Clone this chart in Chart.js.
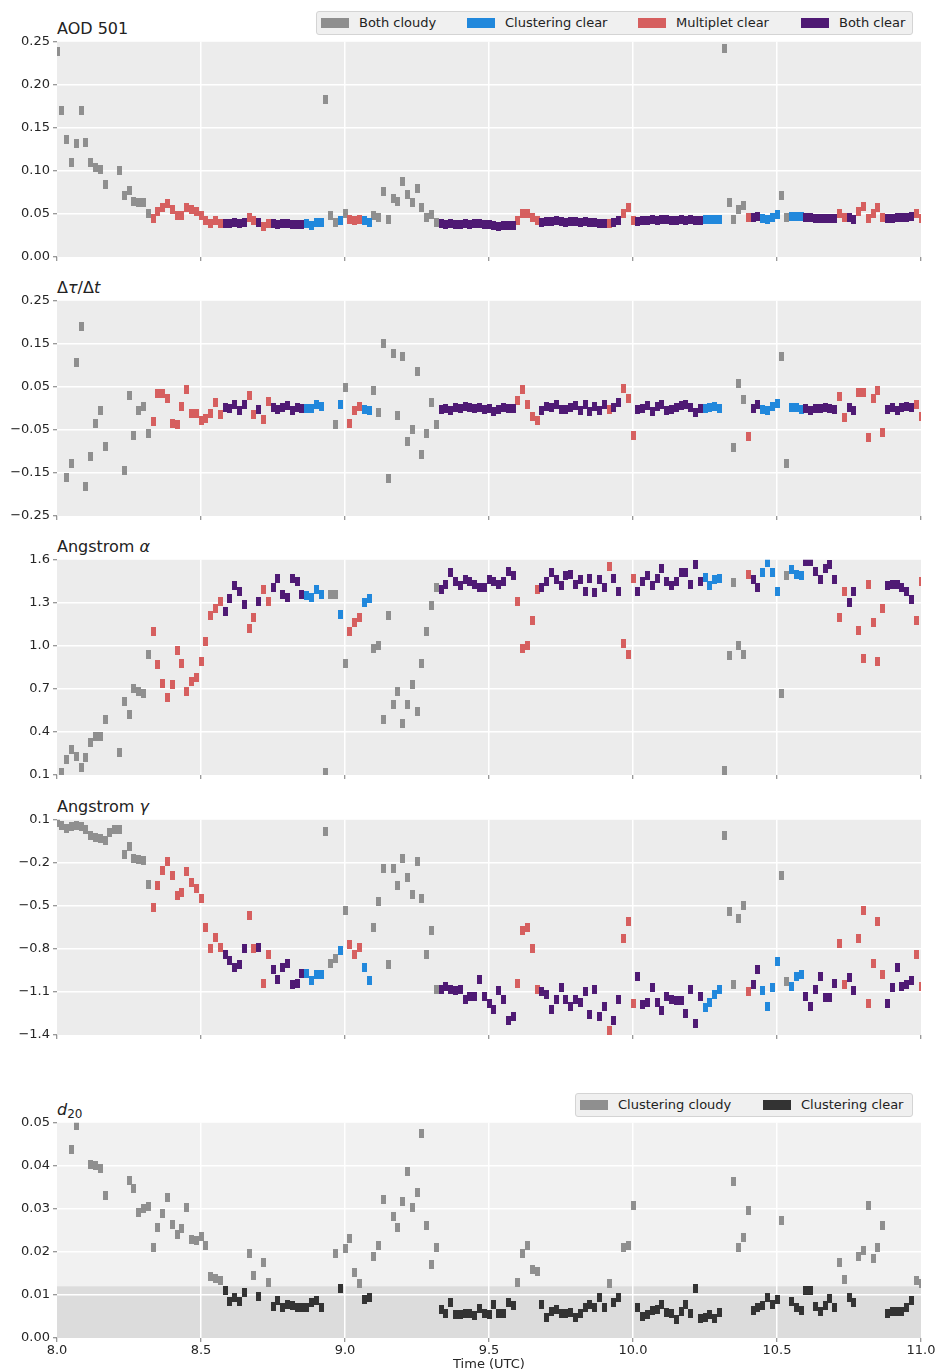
<!DOCTYPE html>
<html>
<head>
<meta charset="utf-8">
<script src="https://cdn.jsdelivr.net/npm/chart.js@4.4.1/dist/chart.umd.min.js"></script>
<style>
  body { margin: 0; background: #fff; width: 938px; height: 1372px; overflow: hidden; position: relative;
         font-family: 'DejaVu Sans', sans-serif; color: #222; }
  canvas { position: absolute; left: 0; }
  .title { position: absolute; left: 57px; font-size: 16px; line-height: 16px; white-space: nowrap; }
  .legend { position: absolute; background: #f0f0f0; border: 1px solid #d4d4d4; border-radius: 3px; box-sizing: border-box; }
  .item { position: absolute; top: 0; font-size: 13px; line-height: 22px; white-space: nowrap; }
  .swatch { display: inline-block; width: 28px; height: 10px; vertical-align: -1px; margin-right: 10px; }
</style>
</head>
<body>

<div class="title" style="top:21px">AOD 501</div>
<div class="title" style="top:280px">Δ<i>τ</i>/Δ<i>t</i></div>
<div class="title" style="top:539px">Angstrom <i>α</i></div>
<div class="title" style="top:799px">Angstrom <i>γ</i></div>
<div class="title" style="top:1102px"><i>d</i><span style="font-size:12px;position:relative;top:3px">20</span></div>

<div class="legend" style="left:316px;top:11px;width:597px;height:24px">
  <div class="item" style="left:4px"><span class="swatch" style="background:#8f8f8f"></span>Both cloudy</div>
  <div class="item" style="left:150px"><span class="swatch" style="background:#2188dc"></span>Clustering clear</div>
  <div class="item" style="left:321px"><span class="swatch" style="background:#d65f5f"></span>Multiplet clear</div>
  <div class="item" style="left:484px"><span class="swatch" style="background:#4f1a74"></span>Both clear</div>
</div>
<div class="legend" style="left:575px;top:1093px;width:338px;height:24px">
  <div class="item" style="left:4px"><span class="swatch" style="background:#8f8f8f"></span>Clustering cloudy</div>
  <div class="item" style="left:187px"><span class="swatch" style="background:#333333"></span>Clustering clear</div>
</div>

<canvas id="aodChart" width="938" height="238" style="top:31px"></canvas>
<canvas id="dtauChart" width="938" height="238" style="top:290px"></canvas>
<canvas id="alphaChart" width="938" height="238" style="top:549px"></canvas>
<canvas id="gammaChart" width="938" height="238" style="top:809px"></canvas>
<canvas id="d20Chart" width="938" height="260" style="top:1112px"></canvas>

<script>
// one reading per minute starting 08:00 UTC, index = minutes after 08:00
const startHour = 8;

// sky class per minute: G both cloudy, C clustering clear, M multiplet clear, B both clear
const skyClass = (
  'GGGGGGGGGGGGGGGGGGGG' + 'MMMMMMMMMMMMMMM' + 'BBBBB' + 'MM' + 'B' + 'MM' + 'BBBBBBB' + 'CCCC' +
  'GGG' + 'C' + 'G' + 'MMM' + 'CC' + 'GGGGGGGGGGGGGG' + 'BBBBBBBBBBBBBBBB' + 'MMMMM' +
  'BBBBBBBBBBBBBB' + 'M' + 'BB' + 'MMM' + 'BBBBBBBBBBBBBB' + 'CCCC' + 'GGGGG' + 'M' + 'BB' +
  'CCCC' + 'GG' + 'CCC' + 'BBBBBBB' + 'MM' + 'BB' + 'MMMMMM' + 'BBBBBB' + 'MM'
).split('');

const aod = [
  .239, .170, .137, .110, .132, .170, .133, .110, .104, .102,
  .084, null, null, .100, .071, .077, .064, .063, .063, .051,
  .045, .053, .058, .062, .055, .048, .048, .058, .055, .053,
  .048, .042, .039, .042, .039, .039, .039, .040, .039, .040,
  .046, .042, .040, .036, .039, .039, .038, .039, .039, .038,
  .038, .038, .039, .037, .040, .040, .183, .048, .040, .042,
  .051, .044, .042, .043, .042, .040, .048, .046, .076, .043,
  .068, .064, .088, .073, .063, .080, .058, .046, .049, .040,
  .039, .038, .039, .038, .038, .039, .038, .039, .039, .038,
  .038, .037, .036, .037, .037, .037, .042, .050, .050, .046,
  .042, .040, .041, .041, .042, .041, .040, .041, .041, .040,
  .041, .040, .040, .039, .039, .039, .040, .042, .051, .057,
  .042, .041, .042, .042, .043, .042, .043, .043, .042, .042,
  .043, .042, .043, .042, .042, .043, .043, .044, .043, .242,
  .063, .044, .055, .060, .046, .046, .047, .045, .044, .046,
  .049, .072, .046, .047, .047, .047, .046, .046, .045, .045,
  .045, .045, .045, .051, .046, .046, .044, .053, .059, .045,
  .050, .058, .046, .045, .045, .046, .046, .046, .047, .051, .045
];

const dtau = [
  null, null, -.161, -.128, .106, .191, -.181, -.112, -.034, -.005,
  -.088, null, null, null, -.144, .031, -.062, -.004, .005, -.059,
  -.030, .035, .035, .024, -.035, -.038, .005, .045, -.013, -.011,
  -.028, -.024, -.013, .014, -.015, .001, .000, .010, -.005, .008,
  .031, -.015, -.002, -.026, .016, .003, -.002, .002, .006, -.004,
  .003, -.001, .000, -.001, .010, .004, null, null, -.038, .008,
  .048, -.035, -.005, .005, -.002, -.005, .041, -.010, .151, -.163,
  .128, -.017, .120, -.076, -.048, .085, -.107, -.058, .013, -.038,
  -.002, .000, -.004, .003, .000, .005, .002, -.001, .002, -.002,
  .000, -.008, -.002, .001, .000, .000, .018, .045, .010, -.019,
  -.027, -.004, .005, .003, .009, -.002, -.002, .003, .006, -.005,
  .008, -.007, .004, -.006, .010, -.002, .003, .014, .047, .024,
  -.064, -.002, .000, .007, -.008, .004, .010, -.006, -.003, .002,
  .006, .008, .001, -.009, .000, .000, .003, .005, -.001, null,
  null, -.092, .059, .020, -.066, -.001, .008, -.003, -.004, .005,
  .012, .121, -.127, .003, .001, -.002, .000, -.006, -.001, .000,
  .001, -.001, -.003, .028, -.022, .002, -.006, .037, .037, -.068,
  .023, .042, -.057, -.003, .002, -.004, .001, .004, .001, .010, -.019
];

const alpha = [
  null, .12, .21, .28, .23, .15, .22, .33, .37, .37,
  .49, null, null, .26, .61, .52, .70, .68, .67, .94,
  1.10, .87, .74, .64, .73, .97, .88, .68, .75, .78,
  .89, 1.03, 1.21, 1.26, 1.31, 1.24, 1.33, 1.42, 1.38, 1.29,
  1.12, 1.20, 1.31, 1.39, 1.31, 1.41, 1.47, 1.36, 1.34, 1.47,
  1.45, 1.36, 1.35, 1.34, 1.39, 1.36, .12, 1.36, 1.36, 1.22,
  .88, 1.10, 1.16, 1.20, 1.30, 1.33, .98, 1.00, .49, 1.21,
  .59, .68, .46, .59, .73, .54, .88, 1.10, 1.28, 1.41,
  1.39, 1.43, 1.51, 1.45, 1.42, 1.46, 1.45, 1.43, 1.41, 1.41,
  1.46, 1.45, 1.43, 1.45, 1.52, 1.49, 1.31, .98, 1.00, 1.18,
  1.39, 1.41, 1.45, 1.51, 1.46, 1.42, 1.49, 1.50, 1.43, 1.46,
  1.38, 1.47, 1.37, 1.46, 1.41, 1.55, 1.47, 1.38, 1.02, .94,
  1.47, 1.38, 1.45, 1.49, 1.42, 1.47, 1.54, 1.45, 1.42, 1.45,
  1.51, 1.51, 1.43, 1.57, 1.45, 1.48, 1.42, 1.46, 1.47, .13,
  .93, 1.44, 1.00, .94, 1.50, 1.46, 1.41, 1.51, 1.58, 1.51,
  1.38, .67, 1.49, 1.53, 1.50, 1.49, 1.59, 1.59, 1.52, 1.46,
  1.54, 1.57, 1.46, 1.20, 1.38, 1.30, 1.38, 1.11, .91, 1.43,
  1.16, .89, 1.26, 1.42, 1.43, 1.43, 1.41, 1.38, 1.32, 1.18, 1.45
];

const gamma = [
  .08, .06, .04, .05, .06, .05, .035, -.006, -.02, -.03,
  -.045, .01, .03, .03, -.14, -.085, -.17, -.18, -.185, -.35,
  -.51, -.36, -.25, -.19, -.29, -.43, -.41, -.26, -.34, -.38,
  -.45, -.65, -.80, -.72, -.79, -.84, -.88, -.93, -.91, -.80,
  -.57, -.80, -.79, -1.04, -.84, -.94, -1.01, -.93, -.90, -1.05,
  -1.04, -.97, -.97, -1.02, -.98, -.98, .02, -.90, -.87, -.81,
  -.53, -.77, -.84, -.79, -.93, -1.02, -.65, -.47, -.24, -.91,
  -.24, -.36, -.17, -.30, -.42, -.19, -.45, -.84, -.67, -1.08,
  -1.08, -1.06, -1.08, -1.09, -1.08, -1.15, -1.13, -1.13, -1.01, -1.13,
  -1.18, -1.22, -1.09, -1.15, -1.30, -1.27, -1.04, -.67, -.65, -.80,
  -1.08, -1.10, -1.12, -1.22, -1.15, -1.07, -1.15, -1.20, -1.15, -1.17,
  -1.10, -1.26, -1.08, -1.27, -1.20, -1.37, -1.30, -1.15, -.73, -.61,
  -1.18, -.99, -1.19, -1.17, -1.07, -1.17, -1.23, -1.13, -1.15, -1.16,
  -1.16, -1.25, -1.08, -1.32, -1.13, -1.21, -1.17, -1.12, -1.08, -.01,
  -.54, -1.05, -.59, -.50, -1.10, -1.05, -.94, -1.09, -1.20, -1.07,
  -.89, -.29, -1.03, -1.06, -.99, -.98, -1.13, -1.20, -1.08, -.99,
  -1.14, -1.14, -1.04, -.76, -1.05, -1.00, -1.09, -.73, -.53, -1.18,
  -.90, -.61, -.98, -1.18, -1.07, -.93, -1.06, -1.05, -1.02, -.84, -1.06
];

const d20 = [
  null, null, null, .0439, .0493, null, null, .0404, .0400, .0394,
  .0330, null, null, null, null, .0366, .0348, .0291, .0301, .0306,
  .0211, .0256, .0290, .0326, .0264, .0241, .0255, .0304, .0229, .0227,
  .0235, .0214, .0144, .0138, .0134, .0110, .0084, .0095, .0084, .0105,
  .0196, .0145, .0097, .0175, .0130, .0074, .0088, .0070, .0078, .0075,
  .0071, .0071, .0071, .0082, .0087, .0071, null, null, .0196, .0115,
  .0207, .0231, .0153, .0127, .0089, .0095, .0190, .0216, .0322, null,
  .0282, .0256, .0318, .0388, .0304, .0338, .0474, .0262, .0171, .0210,
  .0066, .0058, .0083, .0054, .0054, .0056, .0058, .0053, .0068, .0056,
  .0054, .0078, .0056, .0056, .0082, .0075, .0130, .0196, .0214, .0158,
  .0155, .0078, .0048, .0062, .0066, .0056, .0056, .0060, .0048, .0058,
  .0071, .0078, .0070, .0093, .0071, .0126, .0082, .0095, .0211, .0214,
  .0309, .0070, .0050, .0054, .0063, .0066, .0078, .0060, .0058, .0044,
  .0062, .0078, .0056, .0116, .0045, .0047, .0054, .0045, .0060, null,
  null, .0363, .0210, .0233, .0297, .0064, .0070, .0075, .0093, .0078,
  .0089, .0274, null, .0085, .0070, .0064, .0110, .0110, .0073, .0062,
  .0075, .0091, .0070, .0175, .0136, .0095, .0082, .0189, .0204, .0309,
  .0184, .0210, .0262, .0058, .0062, .0062, .0062, .0070, .0087, .0134, .0126
];

const xTicks = [8.0, 8.5, 9.0, 9.5, 10.0, 10.5, 11.0];
const aodTicks = [0, 0.05, 0.10, 0.15, 0.20, 0.25];
const dtauTicks = [-0.25, -0.15, -0.05, 0.05, 0.15, 0.25];
const alphaTicks = [0.1, 0.4, 0.7, 1.0, 1.3, 1.6];
const gammaTicks = [-1.4, -1.1, -0.8, -0.5, -0.2, 0.1];
const d20Ticks = [0, 0.01, 0.02, 0.03, 0.04, 0.05];
const cloudThreshold = 0.012;

const classColors = { G: '#8f8f8f', C: '#2188dc', M: '#d65f5f', B: '#4f1a74' };
const classNames = { G: 'Both cloudy', C: 'Clustering clear', M: 'Multiplet clear', B: 'Both clear' };

Chart.defaults.font.family = "'DejaVu Sans', sans-serif";
Chart.defaults.font.size = 13;
Chart.defaults.color = '#262626';

const times = skyClass.map((_, i) => startHour + i / 60);

function marker(color) {
    const c = document.createElement('canvas');
    c.width = 5;
    c.height = 9;
    const g = c.getContext('2d');
    g.fillStyle = color;
    g.fillRect(0, 0, 5, 9);
    return c;
}

function points(values, keep) {
    const out = [];
    values.forEach((v, i) => {
        if (v !== null && keep(i)) out.push({ x: times[i], y: v });
    });
    return out;
}

function dataset(label, data, color) {
    return {
        label: label,
        data: data,
        pointStyle: marker(color),
        pointRadius: 3,
        clip: 0
    };
}

// plot background, optional darker band below the cloud threshold
const bgPlugin = {
    id: 'bg',
    beforeDraw(chart, args, opts) {
        const { ctx, chartArea: a } = chart;
        ctx.save();
        ctx.fillStyle = opts.color;
        ctx.fillRect(a.left, a.top, a.width, a.height);
        if (opts.bandBelow !== undefined) {
            const y = chart.scales.y.getPixelForValue(opts.bandBelow);
            ctx.fillStyle = opts.bandColor;
            ctx.fillRect(a.left, y, a.width, a.bottom - y);
        }
        ctx.restore();
    }
};

function gridColor(lo, hi) {
    return c => (c.tick && (Math.abs(c.tick.value - lo) < 1e-9 || Math.abs(c.tick.value - hi) < 1e-9)) ? 'rgba(0,0,0,0)' : '#ffffff';
}

function makePanel(id, datasets, yMin, yMax, yTicks, decimals, isLast, bg) {
    return new Chart(document.getElementById(id), {
        type: 'scatter',
        data: { datasets: datasets },
        options: {
            responsive: false,
            animation: false,
            events: [],
            layout: { padding: { top: 10, right: 17, left: 0, bottom: 0 } },
            plugins: {
                legend: { display: false },
                tooltip: { enabled: false },
                bg: bg
            },
            scales: {
                x: {
                    type: 'linear',
                    min: 8,
                    max: 11,
                    afterBuildTicks: s => { s.ticks = xTicks.map(v => ({ value: v })); },
                    afterFit: s => { s.height = isLast ? 34 : 12; },
                    grid: { color: gridColor(8, 11), lineWidth: 1.5, tickColor: '#777', tickLength: 4, tickWidth: 1 },
                    border: { display: false },
                    ticks: { display: isLast, padding: 1, maxRotation: 0, autoSkip: false, callback: v => v.toFixed(1) },
                    title: { display: isLast, text: 'Time (UTC)', padding: { top: 1, bottom: 0 }, font: { size: 13 } }
                },
                y: {
                    min: yMin,
                    max: yMax,
                    afterBuildTicks: s => { s.ticks = yTicks.map(v => ({ value: v })); },
                    afterFit: s => { s.width = 57; },
                    grid: { color: gridColor(yMin, yMax), lineWidth: 1.5, tickColor: '#777', tickLength: 4, tickWidth: 1 },
                    border: { display: false },
                    ticks: { padding: 3, autoSkip: false, callback: v => v.toFixed(decimals).replace('-', '\u2212') }
                }
            }
        },
        plugins: [bgPlugin]
    });
}

// drawn last-to-first, so both clear ends up on top
function skyDatasets(values) {
    return ['B', 'M', 'C', 'G'].map(k =>
        dataset(classNames[k], points(values, i => skyClass[i] === k), classColors[k]));
}

const plainBg = { color: '#ececec' };

makePanel('aodChart', skyDatasets(aod), 0, 0.25, aodTicks, 2, false, plainBg);
makePanel('dtauChart', skyDatasets(dtau), -0.25, 0.25, dtauTicks, 2, false, plainBg);
makePanel('alphaChart', skyDatasets(alpha), 0.1, 1.6, alphaTicks, 1, false, plainBg);
makePanel('gammaChart', skyDatasets(gamma), -1.4, 0.1, gammaTicks, 1, false, plainBg);

const clusterClear = i => skyClass[i] === 'B' || skyClass[i] === 'C';
makePanel('d20Chart', [
    dataset('Clustering clear', points(d20, clusterClear), '#333333'),
    dataset('Clustering cloudy', points(d20, i => !clusterClear(i)), '#8f8f8f')
], 0, 0.05, d20Ticks, 2, true, { color: '#f1f1f1', bandBelow: cloudThreshold, bandColor: '#dcdcdc' });
</script>
</body>
</html>
